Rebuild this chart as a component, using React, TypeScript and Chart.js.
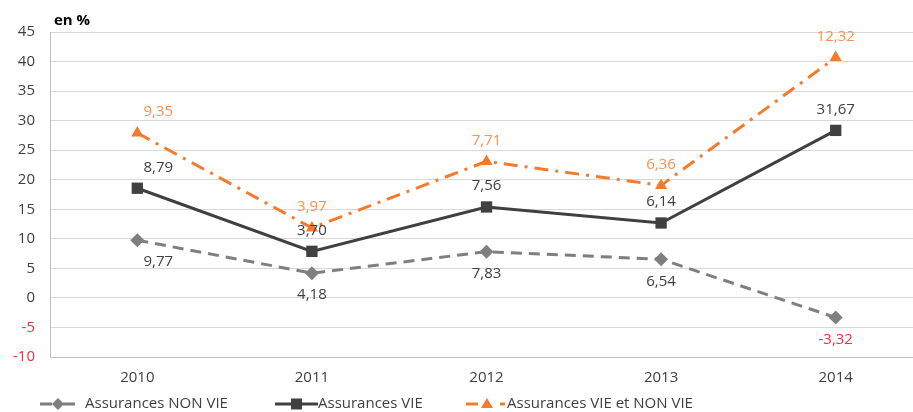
import React, { useEffect, useRef } from "react";
import { Chart, registerables } from "chart.js";

Chart.register(...registerables);

const years = ["2010", "2011", "2012", "2013", "2014"];
const nonVie = [9.77, 4.18, 7.83, 6.54, -3.32];
const vie = [8.79, 3.7, 7.56, 6.14, 31.67];
const vieEtNonVie = [9.35, 3.97, 7.71, 6.36, 12.32];
const seriesNames = ["Assurances NON VIE", "Assurances VIE", "Assurances VIE et NON VIE"];

const FONT = "'Open Sans', sans-serif";
const GRAY = "#7f7f7f";
const DARK = "#404040";
const ORANGE = "#F47B2C";
const ORANGE_LABEL = "#F79250";
const RED = "#F0303A";

const fmt = (v: number) => v.toFixed(2).replace(".", ",");

const labelsPlugin = {
  id: "valueLabels",
  afterDatasetsDraw(chart: any) {
    const ctx = chart.ctx;
    ctx.save();
    ctx.font = `15px ${FONT}`;
    ctx.textAlign = "center";
    ctx.textBaseline = "middle";
    chart.data.datasets.forEach((ds: any, di: number) => {
      const meta = chart.getDatasetMeta(di);
      meta.data.forEach((pt: any, i: number) => {
        const v = ds.data[i];
        const dx = i === 0 ? 21 : 0;
        const dy = di === 0 ? 22 : -21;
        let color = di === 2 ? ORANGE_LABEL : DARK;
        if (v < 0) color = RED;
        ctx.fillStyle = color;
        ctx.fillText(fmt(v), pt.x + dx, pt.y + dy);
      });
    });
    ctx.restore();
  },
  afterDraw(chart: any) {
    const ctx = chart.ctx;
    ctx.save();
    ctx.font = `bold 15px ${FONT}`;
    ctx.fillStyle = "#000";
    ctx.textBaseline = "middle";
    ctx.textAlign = "left";
    ctx.fillText("en %", 54, 21);

    const y = 404;
    ctx.font = `15px ${FONT}`;
    ctx.lineWidth = 3;
    ctx.strokeStyle = GRAY;
    ctx.beginPath();
    ctx.moveTo(40, y); ctx.lineTo(52, y);
    ctx.moveTo(63, y); ctx.lineTo(75, y);
    ctx.stroke();
    ctx.fillStyle = GRAY;
    ctx.beginPath();
    ctx.moveTo(58, y - 6); ctx.lineTo(64, y); ctx.lineTo(58, y + 6); ctx.lineTo(52, y);
    ctx.closePath(); ctx.fill();
    ctx.fillStyle = DARK;
    ctx.fillText(seriesNames[0], 85, y);

    ctx.strokeStyle = DARK;
    ctx.beginPath();
    ctx.moveTo(275, y); ctx.lineTo(318, y);
    ctx.stroke();
    ctx.fillStyle = DARK;
    ctx.fillRect(291, y - 5.5, 11, 11);
    ctx.fillText(seriesNames[1], 318, y);

    ctx.strokeStyle = ORANGE;
    ctx.beginPath();
    ctx.moveTo(466, y); ctx.lineTo(478, y);
    ctx.moveTo(500, y); ctx.lineTo(505, y);
    ctx.stroke();
    ctx.fillStyle = ORANGE;
    ctx.beginPath();
    ctx.moveTo(487, y - 6); ctx.lineTo(493, y + 4); ctx.lineTo(481, y + 4);
    ctx.closePath(); ctx.fill();
    ctx.fillStyle = DARK;
    ctx.fillText(seriesNames[2], 507, y);
    ctx.restore();
  },
};

export default function App() {
  const ref = useRef<HTMLCanvasElement>(null);
  useEffect(() => {
    if (!ref.current) return;
    const chart = new Chart(ref.current, {
      type: "line",
      data: {
        labels: years,
        datasets: [
          {
            label: seriesNames[0],
            data: nonVie,
            borderColor: GRAY,
            backgroundColor: GRAY,
            borderWidth: 3,
            borderDash: [11, 7],
            pointStyle: "rectRot",
            pointRadius: 7,
            pointBorderWidth: 0,
            tension: 0,
          },
          {
            label: seriesNames[1],
            data: vie,
            borderColor: DARK,
            backgroundColor: DARK,
            borderWidth: 3,
            pointStyle: "rect",
            pointRadius: 8,
            pointBorderWidth: 0,
            tension: 0,
          },
          {
            label: seriesNames[2],
            data: vieEtNonVie,
            borderColor: ORANGE,
            backgroundColor: ORANGE,
            borderWidth: 3,
            borderDash: [14, 7, 3, 7],
            pointStyle: "triangle",
            pointRadius: 7,
            pointBorderWidth: 0,
            tension: 0,
          },
        ],
      },
      options: {
        responsive: false,
        animation: false,
        devicePixelRatio: 1,
        layout: { padding: { top: 32, left: 0, right: 0, bottom: 0 } },
        plugins: { legend: { display: false }, tooltip: { enabled: false } },
        scales: {
          x: {
            offset: true,
            grid: { display: false, drawTicks: false, offset: true },
            border: { display: true, color: "#bfbfbf", width: 1 },
            ticks: { color: DARK, font: { family: FONT, size: 15 }, padding: 12 },
            afterFit: (s: any) => { s.height = 55; },
          },
          y: {
            stacked: "single" as any,
            min: -10,
            max: 45,
            grid: { color: "#d9d9d9", drawTicks: false },
            border: { display: true, color: "#bfbfbf", width: 1 },
            ticks: {
              stepSize: 5,
              padding: 15,
              font: { family: FONT, size: 15 },
              color: (c: any) => (c.tick && c.tick.value < 0 ? RED : DARK),
            },
            afterFit: (s: any) => { s.width = 50; },
          },
        },
      },
      plugins: [labelsPlugin],
    });
    return () => chart.destroy();
  }, []);
  return (
    <div style={{ position: "fixed", left: 0, top: 0, width: 931, height: 412 }}>
      <canvas ref={ref} width={931} height={412} />
    </div>
  );
}
